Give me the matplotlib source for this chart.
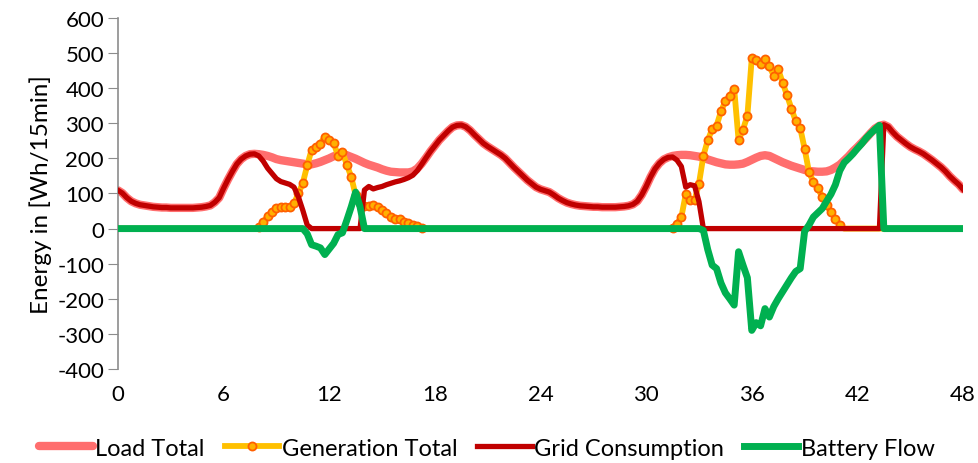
import numpy as np
import matplotlib.pyplot as plt

# quarter-hour steps over two days (0 .. 48 h)
hours = np.arange(193) * 0.25

load_total = [
    109, 101, 88, 78, 72, 68, 66, 64,
    62, 61, 60, 60, 59, 59, 59, 59,
    59, 59, 60, 61, 63, 66, 75, 88,
    115, 140, 163, 184, 198, 207, 212, 213,
    212, 210, 207, 203, 198, 195, 193, 191,
    189, 187, 185, 183, 183, 186, 190, 195,
    200, 206, 211, 213, 209, 204, 199, 193,
    187, 182, 178, 174, 169, 165, 162, 161,
    160, 160, 160, 163, 171, 185, 202, 220,
    236, 252, 265, 278, 289, 294, 295, 290,
    280, 267, 255, 243, 234, 226, 218, 210,
    200, 187, 174, 162, 150, 138, 128, 118,
    112, 108, 104, 96, 87, 80, 74, 70,
    67, 65, 64, 63, 62, 62, 61, 61,
    61, 61, 62, 63, 65, 69, 78, 96,
    120, 147, 170, 186, 197, 203, 207, 209,
    210, 210, 209, 207, 205, 201, 197, 193,
    189, 186, 183, 182, 182, 183, 185, 190,
    196, 202, 207, 209, 207, 201, 195, 189,
    184, 179, 175, 171, 167, 164, 163, 162,
    162, 163, 167, 174, 182, 194, 206, 220,
    232, 245, 258, 272, 285, 293, 296, 290,
    275, 262, 252, 242, 233, 226, 220, 213,
    204, 195, 185, 175, 163, 149, 137, 126,
    112,
]

generation_total = (
    [0] * 32
    + [5, 18, 36, 48, 58, 62, 62, 62,
       72, 100, 130, 180, 225, 233, 242, 262,
       252, 244, 208, 218, 182, 147, 95, 72,
       64, 64, 66, 62, 52, 43, 34, 28,
       26, 20, 15, 11, 6, 2]
    + [0] * 56
    + [3, 14,
       33, 98, 81, 81, 128, 207, 252, 283,
       293, 334, 363, 378, 399, 252, 282, 321,
       486, 480, 470, 484, 463, 435, 454, 416,
       380, 342, 306, 287, 228, 161, 133, 116,
       90, 68, 46, 28, 9]
    + [0] * 28
)

grid_consumption = [
    109, 101, 88, 78, 72, 68, 66, 64,
    62, 61, 60, 60, 59, 59, 59, 59,
    59, 59, 60, 61, 63, 66, 75, 88,
    115, 140, 163, 184, 198, 207, 212, 213,
    207, 192, 172, 157, 142, 134, 130, 126,
    118, 90, 52, 10, 0, 0, 0, 0,
    0, 0, 0, 0, 0, 0, 0, 0,
    110, 120, 113, 117, 120, 125, 129, 133,
    136, 140, 145, 152, 165, 183, 202, 220,
    236, 252, 265, 278, 289, 294, 295, 290,
    280, 267, 255, 243, 234, 226, 218, 210,
    200, 187, 174, 162, 150, 138, 128, 118,
    112, 108, 104, 96, 87, 80, 74, 70,
    67, 65, 64, 63, 62, 62, 61, 61,
    61, 61, 62, 63, 65, 69, 78, 96,
    120, 147, 170, 186, 197, 203, 204, 195,
    177, 118, 125, 122, 77, 0, 0, 0,
    0, 0, 0, 0, 0, 0, 0, 0,
    0, 0, 0, 0, 0, 0, 0, 0,
    0, 0, 0, 0, 0, 0, 0, 0,
    0, 0, 0, 0, 0, 0, 0, 0,
    0, 0, 0, 0, 0, 0, 296, 290,
    275, 262, 252, 242, 233, 226, 220, 213,
    204, 195, 185, 175, 163, 149, 137, 126,
    112,
]

battery_flow = (
    [0] * 43
    + [-15, -46, -50, -55, -74, -58, -42, -17, -12, 24, 62, 104, 62]
    + [0] * 77
    + [-5, -60, -104,
       -114, -155, -183, -200, -218, -66, -104, -140,
       -290, -268, -277, -228, -252, -222, -200, -180,
       -160, -140, -122, -114, -8, 10, 33, 45,
       57, 78, 98, 125, 165, 188, 200, 213,
       228, 242, 258, 271, 283, 294]
    + [0] * 19
)

x_ticks = [0, 6, 12, 18, 24, 30, 36, 42, 48]
y_ticks = list(range(-400, 601, 100))

plt.rcParams["font.family"] = ["Lato", "DejaVu Sans"]
plt.rcParams["axes.unicode_minus"] = False

fig = plt.figure(figsize=(9.79, 4.64), dpi=100)
ax = fig.add_axes([0.1205, 0.2026, 0.8632, 0.7565])

# markers only where the panels actually produce something
gen_marks = [i for i, v in enumerate(generation_total) if v > 0]

ax.axhline(0, color="#868686", lw=0.8, zorder=1)
ax.plot(hours, load_total, color="#ff3030", lw=6, alpha=0.7,
        solid_capstyle="round", label="Load Total", zorder=2)
ax.plot(hours, generation_total, color="#ffc000", lw=4.2,
        marker="o", markersize=5.8, markevery=gen_marks,
        markerfacecolor="#ffb000", markeredgecolor="#ff6000",
        markeredgewidth=1.3, label="Generation Total", zorder=3)
ax.plot(hours, grid_consumption, color="#c00000", lw=3.8,
        solid_joinstyle="round", label="Grid Consumption", zorder=4)
ax.plot(hours, battery_flow, color="#00b050", lw=5,
        solid_joinstyle="round", label="Battery Flow", zorder=5)

ax.set_xlim(0, 48)
ax.set_ylim(-400, 600)
ax.set_xticks(x_ticks)
ax.set_yticks(y_ticks)
ax.tick_params(axis="x", length=0, labelsize=16, pad=11)
ax.tick_params(axis="y", length=7, color="#8c8c8c", labelsize=16, pad=3)

for side in ["top", "right", "bottom"]:
    ax.spines[side].set_visible(False)
ax.spines["left"].set_color("#8c8c8c")
ax.spines["left"].set_linewidth(1.2)

ax.set_ylabel("Energy in [Wh/15min]", fontsize=17.5, labelpad=4)

fig.legend(loc="center", bbox_to_anchor=(0.497, 0.032), ncol=4,
           frameon=False, fontsize=17, handlelength=2.3, handletextpad=0.1,
           columnspacing=0.85, numpoints=1)

fig.savefig("out.png", dpi=100)
